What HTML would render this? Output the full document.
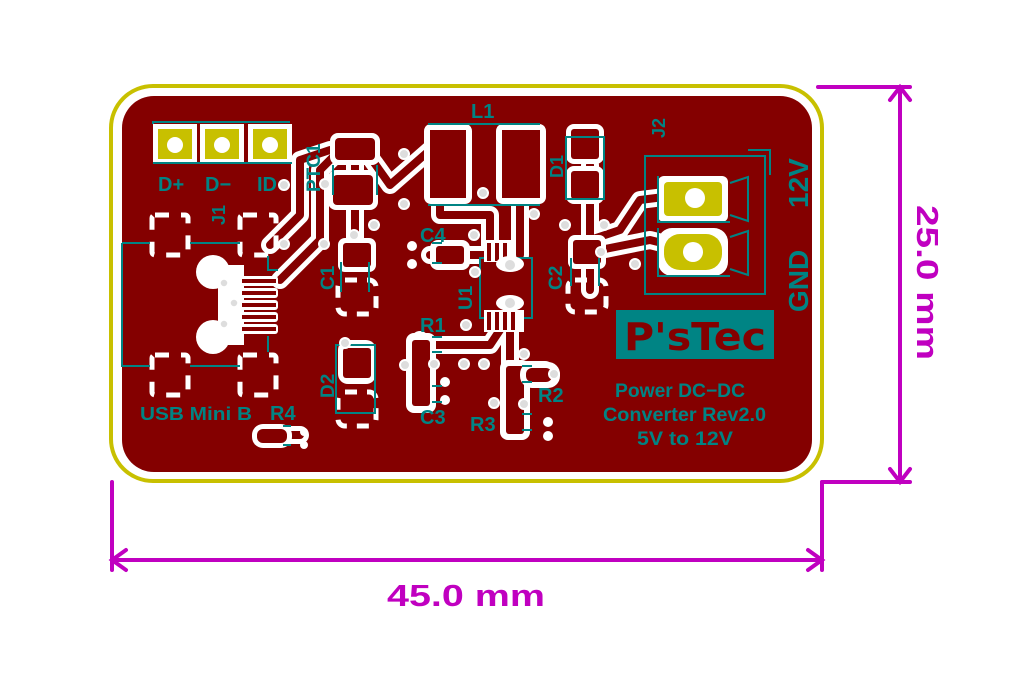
<!DOCTYPE html>
<html><head><meta charset="utf-8"><style>
html,body{margin:0;padding:0;background:#fff;}
svg{display:block;}
text{font-family:"Liberation Sans",sans-serif;font-weight:bold;}
</style></head><body>
<svg width="1036" height="680" viewBox="0 0 1036 680" xmlns="http://www.w3.org/2000/svg">
<rect x="111" y="86" width="711" height="395" rx="42" fill="#fff" stroke="#c8c000" stroke-width="4"/>
<rect x="122" y="96" width="690" height="376" rx="32" fill="#840000"/>

<g fill="none" stroke-linejoin="round" stroke-linecap="round">
 <g stroke="#fff" stroke-width="18">
  <polyline points="270,245 300,215 300,160 330,150"/>
  <polyline points="280,280 320,240 320,170 340,150"/>
  <polyline points="355,150 355,255"/>
  <polyline points="365,150 390,185 430,150"/>
  <polyline points="440,200 440,215 490,215 490,255"/>
  <polyline points="520,200 520,255"/>
  <polyline points="430,255 490,255"/>
  <polyline points="590,165 590,290"/>
  <polyline points="590,240 620,230 640,200 680,195"/>
  <polyline points="600,250 650,240 690,250"/>
  <polyline points="420,340 420,400"/>
  <polyline points="420,345 490,345 500,330"/>
  <polyline points="510,330 510,430"/>
  <polyline points="510,370 545,370"/>
  <polyline points="265,435 300,435"/>
 </g>
 <g stroke="#840000" stroke-width="8">
  <polyline points="270,245 300,215 300,160 330,150"/>
  <polyline points="280,280 320,240 320,170 340,150"/>
  <polyline points="355,150 355,255"/>
  <polyline points="365,150 390,185 430,150"/>
  <polyline points="440,200 440,215 490,215 490,255"/>
  <polyline points="520,200 520,255"/>
  <polyline points="430,255 490,255"/>
  <polyline points="590,165 590,290"/>
  <polyline points="590,240 620,230 640,200 680,195"/>
  <polyline points="600,250 650,240 690,250"/>
  <polyline points="420,340 420,400"/>
  <polyline points="420,345 490,345 500,330"/>
  <polyline points="510,330 510,430"/>
  <polyline points="510,370 545,370"/>
  <polyline points="265,435 300,435"/>
 </g>
</g>

<g>
 <rect x="153" y="124" width="44" height="39" fill="#fff"/><rect x="158" y="129" width="34" height="30" fill="#c8c000"/><circle cx="175" cy="145" r="8" fill="#fff"/>
 <rect x="200" y="124" width="44" height="39" fill="#fff"/><rect x="205" y="129" width="34" height="30" fill="#c8c000"/><circle cx="222" cy="145" r="8" fill="#fff"/>
 <rect x="248" y="124" width="44" height="39" fill="#fff"/><rect x="253" y="129" width="34" height="30" fill="#c8c000"/><circle cx="270" cy="145" r="8" fill="#fff"/>
 <path d="M153,124 V122 H290" stroke="#008484" stroke-width="2" fill="none"/>
 <path d="M153,163 H292" stroke="#008484" stroke-width="2" fill="none"/>
</g>
<g fill="#008484" font-size="20">
 <text x="158" y="191">D+</text><text x="205" y="191">D−</text><text x="257" y="191">ID</text>
</g>

<g stroke="#fff" stroke-width="5" fill="none" stroke-dasharray="14,12">
 <rect x="152" y="215" width="36" height="40" rx="3"/>
 <rect x="240" y="215" width="36" height="40" rx="3"/>
 <rect x="152" y="355" width="36" height="40" rx="3"/>
 <rect x="240" y="355" width="36" height="40" rx="3"/>
</g>
<path d="M122,243 H150 M190,243 H240 M122,243 V366 H150 M190,366 H240" stroke="#008484" stroke-width="2" fill="none"/>
<path d="M268,256 V270 H278 M268,336 V352" stroke="#008484" stroke-width="2" fill="none"/>
<g fill="#fff">
 <circle cx="213" cy="272" r="17"/><circle cx="213" cy="337" r="17"/>
 <rect x="218" y="265" width="26" height="80"/>
 <rect x="236" y="276" width="42" height="10" rx="3"/><rect x="236" y="288" width="42" height="10" rx="3"/><rect x="236" y="300" width="42" height="10" rx="3"/><rect x="236" y="312" width="42" height="10" rx="3"/><rect x="236" y="324" width="42" height="10" rx="3"/>
</g>
<g fill="#840000"><rect x="242" y="279" width="34" height="4"/><rect x="242" y="291" width="34" height="4"/><rect x="242" y="303" width="34" height="4"/><rect x="242" y="315" width="34" height="4"/><rect x="242" y="327" width="34" height="4"/></g>
<g fill="#ddd" stroke="#fff" stroke-width="1.5"><circle cx="224" cy="283" r="4"/><circle cx="234" cy="303" r="4"/><circle cx="224" cy="324" r="4"/></g>
<text transform="translate(225,225) rotate(-90)" fill="#008484" font-size="18">J1</text>
<text x="140" y="420" fill="#008484" font-size="18" textLength="112" lengthAdjust="spacingAndGlyphs">USB Mini B</text>
<text x="270" y="420" fill="#008484" font-size="20">R4</text>

<rect x="252" y="424" width="40" height="24" rx="11" fill="#fff"/><rect x="257" y="429" width="30" height="14" rx="6" fill="#840000"/>
<circle cx="304" cy="432" r="4" fill="#fff"/><circle cx="304" cy="445" r="4" fill="#fff"/>
<path d="M283,426 h8 M283,445 h8" stroke="#008484" stroke-width="2"/>

<rect x="330" y="133" width="50" height="32" rx="8" fill="#fff"/><rect x="335" y="138" width="40" height="22" rx="4" fill="#840000"/>
<rect x="328" y="170" width="50" height="40" rx="8" fill="#fff"/><rect x="333" y="175" width="40" height="30" rx="4" fill="#840000"/>
<path d="M333,165 v30 M377,165 v30" stroke="#008484" stroke-width="2"/>
<text transform="translate(320,192) rotate(-90)" fill="#008484" font-size="19">PTC1</text>

<rect x="338" y="238" width="38" height="34" rx="7" fill="#fff"/><rect x="343" y="243" width="28" height="24" rx="3" fill="#840000"/>
<rect x="338" y="280" width="38" height="34" rx="7" fill="none" stroke="#fff" stroke-width="5" stroke-dasharray="12,10"/>
<path d="M341,262 v30 M369,262 v30" stroke="#008484" stroke-width="2"/>
<text transform="translate(334,290) rotate(-90)" fill="#008484" font-size="19">C1</text>

<rect x="338" y="340" width="38" height="44" rx="10" fill="#fff"/><rect x="343" y="348" width="28" height="30" rx="3" fill="#840000"/>
<rect x="338" y="392" width="38" height="34" rx="7" fill="none" stroke="#fff" stroke-width="5" stroke-dasharray="12,10"/>
<rect x="336" y="345" width="39" height="68" fill="none" stroke="#008484" stroke-width="2"/>
<text transform="translate(334,398) rotate(-90)" fill="#008484" font-size="19">D2</text>

<rect x="424" y="124" width="48" height="80" rx="7" fill="#fff"/><rect x="430" y="130" width="36" height="68" fill="#840000"/>
<rect x="496" y="124" width="50" height="80" rx="7" fill="#fff"/><rect x="502" y="130" width="38" height="68" fill="#840000"/>
<path d="M428,124 H540 M428,205 H540" stroke="#008484" stroke-width="2"/>
<text x="471" y="118" fill="#008484" font-size="20">L1</text>

<rect x="566" y="124" width="38" height="40" rx="8" fill="#fff"/><rect x="571" y="129" width="28" height="30" rx="3" fill="#840000"/>
<rect x="566" y="166" width="38" height="38" rx="8" fill="#fff"/><rect x="571" y="171" width="28" height="28" rx="3" fill="#840000"/>
<rect x="566" y="137" width="38" height="62" fill="none" stroke="#008484" stroke-width="2"/>
<text transform="translate(563,178) rotate(-90)" fill="#008484" font-size="18">D1</text>

<rect x="430" y="240" width="40" height="30" rx="8" fill="#fff"/><rect x="436" y="246" width="28" height="18" rx="3" fill="#840000"/>
<circle cx="412" cy="246" r="5" fill="#fff"/><circle cx="412" cy="264" r="5" fill="#fff"/>
<path d="M432,243 h10 M432,263 h10" stroke="#008484" stroke-width="2"/>
<text x="420" y="242" fill="#008484" font-size="20">C4</text>

<rect x="480" y="258" width="52" height="60" fill="#840000" stroke="#008484" stroke-width="2"/>
<g fill="#fff"><rect x="484" y="240" width="30" height="22"/><rect x="484" y="310" width="40" height="22"/></g>
<g fill="#840000"><rect x="487" y="243" width="4" height="18"/><rect x="495" y="243" width="4" height="18"/><rect x="503" y="243" width="4" height="18"/><rect x="487" y="312" width="4" height="18"/><rect x="495" y="312" width="4" height="18"/><rect x="503" y="312" width="4" height="18"/><rect x="511" y="312" width="4" height="18"/></g>
<ellipse cx="510" cy="264" rx="14" ry="8" fill="#fff"/><ellipse cx="510" cy="303" rx="14" ry="8" fill="#fff"/>
<circle cx="510" cy="265" r="5" fill="#ddd"/><circle cx="510" cy="303" r="5" fill="#ddd"/>
<text transform="translate(472,310) rotate(-90)" fill="#008484" font-size="19">U1</text>

<rect x="568" y="235" width="38" height="34" rx="7" fill="#fff"/><rect x="573" y="240" width="28" height="24" rx="3" fill="#840000"/>
<rect x="568" y="280" width="38" height="32" rx="7" fill="none" stroke="#fff" stroke-width="5" stroke-dasharray="12,10"/>
<path d="M571,258 v28 M599,258 v28" stroke="#008484" stroke-width="2"/>
<text transform="translate(562,290) rotate(-90)" fill="#008484" font-size="19">C2</text>

<rect x="406" y="333" width="30" height="80" rx="8" fill="#fff"/><rect x="412" y="340" width="18" height="66" rx="3" fill="#840000"/>
<circle cx="445" cy="382" r="5" fill="#fff"/><circle cx="445" cy="400" r="5" fill="#fff"/>
<path d="M432,337 h10 M432,352 h10 M432,386 h10 M432,402 h10" stroke="#008484" stroke-width="2"/>
<text x="420" y="332" fill="#008484" font-size="20">R1</text>
<text x="420" y="424" fill="#008484" font-size="20">C3</text>

<rect x="500" y="360" width="30" height="80" rx="8" fill="#fff"/><rect x="506" y="366" width="18" height="68" rx="3" fill="#840000"/>
<rect x="520" y="362" width="40" height="26" rx="12" fill="#fff"/><rect x="526" y="368" width="26" height="14" rx="6" fill="#840000"/>
<circle cx="548" cy="422" r="5" fill="#fff"/><circle cx="548" cy="436" r="5" fill="#fff"/>
<path d="M522,366 h10 M522,382 h10 M522,414 h10 M522,430 h10" stroke="#008484" stroke-width="2"/>
<text x="538" y="402" fill="#008484" font-size="20">R2</text>
<text x="470" y="431" fill="#008484" font-size="20">R3</text>

<rect x="645" y="156" width="120" height="138" fill="none" stroke="#008484" stroke-width="2"/>
<path d="M748,150 H770 V175" stroke="#008484" stroke-width="2" fill="none"/>
<rect x="658" y="176" width="70" height="46" rx="6" fill="#fff"/><rect x="664" y="182" width="58" height="34" rx="4" fill="#c8c000"/><circle cx="695" cy="198" r="10" fill="#fff"/>
<rect x="658" y="228" width="70" height="48" rx="14" fill="#fff"/><rect x="664" y="234" width="58" height="36" rx="16" fill="#c8c000"/><circle cx="693" cy="252" r="10" fill="#fff"/>
<path d="M730,183 l18,-6 v44 l-18,-6 M730,237 l18,-6 v44 l-18,-6 M658,176 V222 H730 M658,228 V276 H730" stroke="#008484" stroke-width="2" fill="none"/>
<text transform="translate(665,138) rotate(-90)" fill="#008484" font-size="18">J2</text>
<text transform="translate(808,208) rotate(-90)" fill="#008484" font-size="28">12V</text>
<text transform="translate(808,312) rotate(-90)" fill="#008484" font-size="28">GND</text>

<rect x="616" y="310" width="158" height="49" fill="#008484"/>
<text x="624" y="350" fill="#840000" font-size="38" textLength="142" lengthAdjust="spacingAndGlyphs" style="font-family:'DejaVu Sans',sans-serif">P'sTec</text>
<g fill="#008484" font-size="19">
 <text x="615" y="397" textLength="130" lengthAdjust="spacingAndGlyphs">Power DC−DC</text>
 <text x="603" y="421" textLength="163" lengthAdjust="spacingAndGlyphs">Converter Rev2.0</text>
 <text x="637" y="445" textLength="96" lengthAdjust="spacingAndGlyphs">5V to 12V</text>
</g>

<g fill="#ddd" stroke="#fff" stroke-width="2">
 <circle cx="284" cy="185" r="5"/><circle cx="325" cy="184" r="5"/><circle cx="404" cy="154" r="5"/><circle cx="404" cy="204" r="5"/>
 <circle cx="284" cy="244" r="5"/><circle cx="324" cy="244" r="5"/><circle cx="354" cy="235" r="5"/><circle cx="374" cy="225" r="5"/>
 <circle cx="483" cy="193" r="5"/><circle cx="534" cy="214" r="5"/><circle cx="474" cy="235" r="5"/><circle cx="475" cy="272" r="5"/>
 <circle cx="565" cy="225" r="5"/><circle cx="604" cy="225" r="5"/><circle cx="601" cy="252" r="5"/><circle cx="635" cy="264" r="5"/>
 <circle cx="466" cy="325" r="5"/><circle cx="405" cy="365" r="5"/><circle cx="434" cy="364" r="5"/><circle cx="464" cy="364" r="5"/><circle cx="484" cy="364" r="5"/>
 <circle cx="524" cy="354" r="5"/><circle cx="554" cy="374" r="5"/><circle cx="494" cy="403" r="5"/><circle cx="524" cy="404" r="5"/>
 <circle cx="345" cy="343" r="5"/>
</g>

<g stroke="#c000c0" stroke-width="4" fill="none" stroke-linecap="round">
 <path d="M818,87 H910 M822,482 H910 M900,87 V482"/>
 <path d="M890,100 L900,87 L910,100 M890,469 L900,482 L910,469"/>
 <path d="M112,482 V570 M822,482 V570 M112,560 H822"/>
 <path d="M126,550 L112,560 L126,570 M808,550 L822,560 L808,570"/>
</g>
<text transform="translate(917,205) rotate(90)" fill="#c000c0" font-size="31" textLength="155" lengthAdjust="spacingAndGlyphs">25.0 mm</text>
<text x="387" y="606" fill="#c000c0" font-size="31" textLength="158" lengthAdjust="spacingAndGlyphs">45.0 mm</text>
</svg>
</body></html>
